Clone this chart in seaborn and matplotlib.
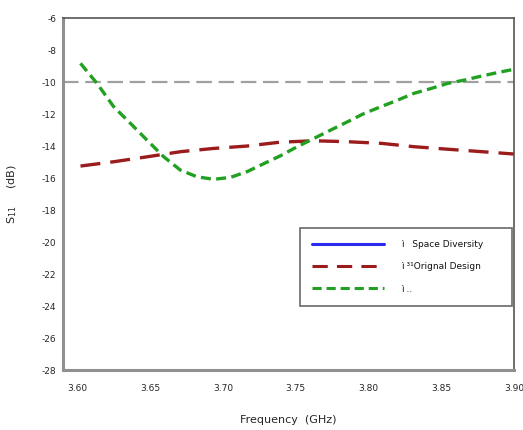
import numpy as np
import pandas as pd
import matplotlib
matplotlib.use("Agg")
import matplotlib.pyplot as plt
import seaborn as sns
from matplotlib.lines import Line2D

sns.set_style("white")
plt.rcParams['font.family'] = ['DejaVu Sans']

freq_orig = [3.602, 3.625, 3.648, 3.671, 3.6935, 3.7165, 3.739, 3.7625, 3.7856, 3.8085, 3.831, 3.8545, 3.8776, 3.900]
s_orig = [-15.25, -14.98, -14.67, -14.35, -14.15, -14.0, -13.76, -13.67, -13.73, -13.83, -14.04, -14.2, -14.35, -14.5]

freq_new = [3.602, 3.6133, 3.6248, 3.6363, 3.6477, 3.6592, 3.6706, 3.682, 3.6935, 3.705, 3.7165,
            3.728, 3.7396, 3.751, 3.7625, 3.774, 3.7856, 3.797, 3.8085, 3.82, 3.831, 3.843,
            3.8545, 3.866, 3.8776, 3.889, 3.900]
s_new = [-8.83, -10.08, -11.54, -12.58, -13.63, -14.67, -15.5, -15.92, -16.08, -15.96, -15.6,
         -15.1, -14.6, -14.04, -13.52, -13.0, -12.48, -11.96, -11.54, -11.13, -10.71, -10.4,
         -10.08, -9.875, -9.625, -9.4, -9.2]

ref_level = -10.0
x_ticks = [3.60, 3.65, 3.70, 3.75, 3.80, 3.85, 3.90]
y_ticks = list(range(-6, -29, -2))
legend_labels = ["ì   Space Diversity", "ì ³¹Orignal Design", "ì .."]

df_orig = pd.DataFrame({"f": freq_orig, "s": s_orig})
df_new = pd.DataFrame({"f": freq_new, "s": s_new})

fig = plt.figure(figsize=(5.23, 4.30), dpi=100)
ax = fig.add_axes([0.1205, 0.1395, 0.8625, 0.8185])

ax.axhline(ref_level, color="#a0a0a0", lw=1.6, dashes=(7, 3))
sns.lineplot(data=df_orig, x="f", y="s", ax=ax, color="#9b1c1c", lw=2.4)
ax.lines[-1].set_dashes((6, 3))
sns.lineplot(data=df_new, x="f", y="s", ax=ax, color="#22a022", lw=2.4)
ax.lines[-1].set_dashes((3, 1.6))

ax.set_xlim(3.590, 3.900)
ax.set_ylim(-28, -6)
ax.set_xticks(x_ticks)
ax.set_xticklabels([f"{t:.2f}" for t in x_ticks], fontsize=6.5)
ax.set_yticks(y_ticks)
ax.set_yticklabels([str(t) for t in y_ticks], fontsize=6.5)
ax.tick_params(axis="both", direction="out", length=3, width=0.8, color="#888888")
ax.tick_params(axis="y", pad=2)
ax.tick_params(axis="x", pad=7)

for side in ["left", "bottom"]:
    ax.spines[side].set_color("#909090")
    ax.spines[side].set_linewidth(2.2)
for side in ["top", "right"]:
    ax.spines[side].set_color("#555555")
    ax.spines[side].set_linewidth(1.2)

ax.set_xlabel("Frequency  (GHz)", fontsize=8, labelpad=16)
ax.set_ylabel("S$_{11}$     (dB)", fontsize=8, labelpad=16)

handles = [
    Line2D([0], [0], color="#2a2af0", lw=2.2),
    Line2D([0], [0], color="#9b1c1c", lw=2.2, dashes=(5, 3)),
    Line2D([0], [0], color="#22a022", lw=2.2, dashes=(3, 1.6)),
]
leg = ax.legend(handles, legend_labels, loc="upper left",
                bbox_to_anchor=(0.525, 0.176, 0.471, 0.227), mode="expand",
                borderaxespad=0, fontsize=6.5, frameon=True, fancybox=False,
                handlelength=8.0, borderpad=1.35, labelspacing=1.45, handletextpad=1.9)
leg.get_frame().set_edgecolor("#444444")
leg.get_frame().set_linewidth(1.2)
for t in leg.get_texts():
    t.set_color("#111111")

fig.savefig("out.png", dpi=100)
